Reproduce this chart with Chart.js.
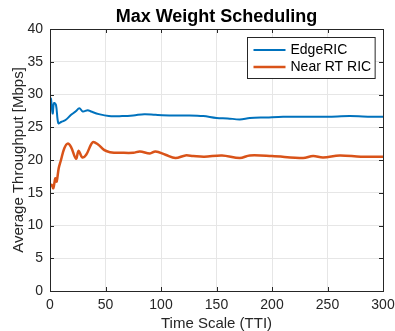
<!DOCTYPE html>
<html>
<head>
<meta charset="utf-8">
<script src="https://cdn.jsdelivr.net/npm/chart.js@4.4.0/dist/chart.umd.min.js"></script>
<style>
  html, body { margin: 0; padding: 0; background: #fff; }
  #wrap { width: 395px; height: 331px; }
</style>
</head>
<body>
<div id="wrap"><canvas id="chart"></canvas></div>
<script>
// ── Data ──
const edgeX = [0.5, 1, 2.4, 3.6, 5.4, 7.5, 10, 14, 19, 23, 26.5, 29.5, 34, 37, 44, 53, 65, 75, 85, 95, 110, 125, 138, 150, 160, 171, 180, 195, 210, 230, 250, 270, 290, 300];
const edgeY = [29.5, 29.2, 27.1, 28.7, 28.4, 25.6, 25.8, 26.1, 26.9, 27.4, 27.9, 27.4, 27.6, 27.4, 27.0, 26.7, 26.7, 26.8, 27.0, 26.9, 26.8, 26.8, 26.7, 26.4, 26.35, 26.2, 26.4, 26.5, 26.6, 26.6, 26.6, 26.7, 26.6, 26.6];

const nearX = [0.5, 1.5, 3, 4.8, 6, 7.8, 9.9, 12.9, 15.9, 18.9, 23.4, 25.8, 29, 32.6, 38.4, 43, 49, 54, 65, 75, 81, 90, 95, 104, 113, 122, 129, 139, 155, 171, 180, 200, 228, 237, 246, 261, 280, 300];
const nearY = [16.0, 16.2, 15.7, 17.2, 16.7, 18.7, 20.0, 21.8, 22.5, 22.0, 20.2, 21.4, 20.4, 20.8, 22.7, 22.4, 21.5, 21.2, 21.1, 21.1, 21.3, 21.0, 21.3, 20.8, 20.3, 20.7, 20.6, 20.5, 20.7, 20.3, 20.7, 20.6, 20.3, 20.6, 20.4, 20.7, 20.5, 20.5];

const seriesNames = ['EdgeRIC', 'Near RT RIC'];
const xTicks = [0, 50, 100, 150, 200, 250, 300];
const yTicks = [0, 5, 10, 15, 20, 25, 30, 35, 40];

const AXIS = '#262626';
const FONT = "'Liberation Sans', Arial, sans-serif";

// ── Centre the title over the axes, not the whole canvas ──
const titleCenter = {
  id: 'titleCenter',
  afterLayout(chart) {
    if (chart.titleBlock) {
      chart.titleBlock.left = chart.chartArea.left;
      chart.titleBlock.right = chart.chartArea.right;
    }
  }
};

// ── Box + inward ticks (MATLAB style) ──
const boxPlugin = {
  id: 'box',
  afterDatasetsDraw(chart) {
    const { ctx, chartArea: a, scales } = chart;
    ctx.save();
    ctx.strokeStyle = AXIS;
    ctx.lineWidth = 1;
    ctx.beginPath();
    xTicks.forEach(v => {
      const px = Math.round(scales.x.getPixelForValue(v)) + 0.5;
      ctx.moveTo(px, a.bottom); ctx.lineTo(px, a.bottom - 4);
      ctx.moveTo(px, a.top); ctx.lineTo(px, a.top + 4);
    });
    yTicks.forEach(v => {
      const py = Math.round(scales.y.getPixelForValue(v)) + 0.5;
      ctx.moveTo(a.left, py); ctx.lineTo(a.left + 4, py);
      ctx.moveTo(a.right, py); ctx.lineTo(a.right - 4, py);
    });
    ctx.stroke();
    ctx.strokeRect(Math.round(a.left) + 0.5, Math.round(a.top) + 0.5,
      Math.round(a.right - a.left), Math.round(a.bottom - a.top));
    ctx.restore();
  }
};

// ── Legend inside the axes, top right ──
const legendPlugin = {
  id: 'insideLegend',
  afterDraw(chart) {
    const { ctx, chartArea: a } = chart;
    const ds = chart.data.datasets;
    ctx.save();
    ctx.font = '14px ' + FONT;
    const tw = Math.max(...ds.map(d => ctx.measureText(d.label).width));
    const w = 6 + 32 + 5 + tw + 4;
    const h = 41;
    const x0 = Math.round(a.right - 8 - w) + 0.5;
    const y0 = Math.round(a.top + 8) + 0.5;
    ctx.fillStyle = '#fff';
    ctx.fillRect(x0, y0, w, h);
    ctx.strokeStyle = AXIS;
    ctx.lineWidth = 1;
    ctx.strokeRect(x0, y0, w, h);
    ds.forEach((d, i) => {
      const cy = y0 + 12.5 + i * 17;
      ctx.strokeStyle = d.borderColor;
      ctx.lineWidth = d.borderWidth;
      ctx.beginPath();
      ctx.moveTo(x0 + 6, cy);
      ctx.lineTo(x0 + 38, cy);
      ctx.stroke();
      ctx.fillStyle = '#000';
      ctx.textBaseline = 'middle';
      ctx.fillText(d.label, x0 + 43, cy);
    });
    ctx.restore();
  }
};

new Chart(document.getElementById('chart'), {
  type: 'line',
  data: {
    datasets: [
      {
        label: seriesNames[0],
        data: edgeX.map((x, i) => ({ x, y: edgeY[i] })),
        borderColor: '#0072BD',
        borderWidth: 2,
        pointRadius: 0,
        tension: 0.35,
        fill: false
      },
      {
        label: seriesNames[1],
        data: nearX.map((x, i) => ({ x, y: nearY[i] })),
        borderColor: '#D95319',
        borderWidth: 2.5,
        pointRadius: 0,
        tension: 0.35,
        fill: false
      }
    ]
  },
  options: {
    responsive: true,
    maintainAspectRatio: false,
    animation: false,
    layout: { padding: { left: 0, right: 12, top: 0, bottom: 0 } },
    plugins: {
      legend: { display: false },
      tooltip: { enabled: false },
      title: {
        display: true,
        text: 'Max Weight Scheduling',
        color: '#000',
        font: { family: FONT, size: 18, weight: 'bold', lineHeight: 1.2 },
        padding: { top: 6, bottom: 1.4 }
      }
    },
    scales: {
      x: {
        type: 'linear',
        min: 0, max: 300,
        afterBuildTicks: s => { s.ticks = xTicks.map(v => ({ value: v })); },
        afterFit: s => { s.height = 40; s.paddingLeft = 0; s.paddingRight = 0; },
        grid: { color: '#e6e6e6', drawTicks: false },
        border: { display: false },
        ticks: { color: AXIS, padding: 6, maxRotation: 0, font: { family: FONT, size: 14 } },
        title: {
          display: true,
          text: 'Time Scale (TTI)',
          color: AXIS,
          font: { family: FONT, size: 15, lineHeight: 1 },
          padding: { top: 0, bottom: 0 }
        }
      },
      y: {
        min: 0, max: 40,
        afterBuildTicks: s => { s.ticks = yTicks.map(v => ({ value: v })); },
        afterFit: s => { s.width = 50; },
        grid: { color: '#e6e6e6', drawTicks: false },
        border: { display: false },
        ticks: { color: AXIS, padding: 7, font: { family: FONT, size: 14 } },
        title: {
          display: true,
          text: 'Average Throughput [Mbps]',
          color: AXIS,
          font: { family: FONT, size: 15, lineHeight: 1.2 },
          padding: { top: 9.5, bottom: 0 }
        }
      }
    }
  },
  plugins: [titleCenter, boxPlugin, legendPlugin]
});
</script>
</body>
</html>
